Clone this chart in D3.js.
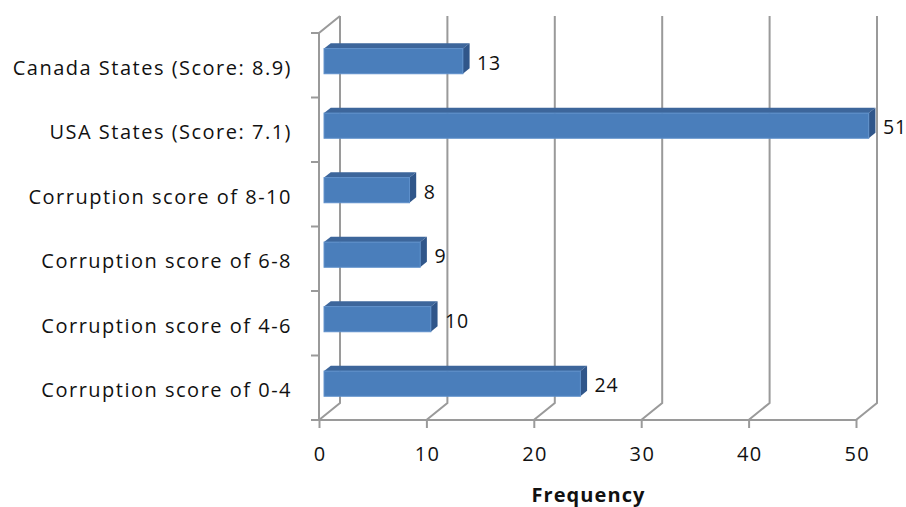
<!DOCTYPE html>
<html>
<head>
<meta charset="utf-8">
<script src="https://cdn.jsdelivr.net/npm/d3@7"></script>
<style>
  body { margin: 0; background: #fff; }
  text { font-family: "Open Sans", sans-serif; fill: #111; letter-spacing: 1.4px; }
  .grid { stroke: #9a9a9a; stroke-width: 2; fill: none; }
</style>
</head>
<body>
<svg id="chart" width="906" height="507"></svg>
<script>
// data
const categories = [
  'Canada States (Score: 8.9)',
  'USA States (Score: 7.1)',
  'Corruption score of 8-10',
  'Corruption score of 6-8',
  'Corruption score of 4-6',
  'Corruption score of 0-4',
];
const frequencies = [13, 51, 8, 9, 10, 24];
const xTicks = [0, 10, 20, 30, 40, 50];
const xTitle = 'Frequency';

const svg = d3.select('#chart');

// 3D look: how far the back wall is shifted from the front plane
const depthX = 21;
const depthY = 17;
const barFront = 0.24; // bar depth range, as fraction of full depth
const barBack = 0.56;

const x = d3.scaleLinear().domain([0, 50]).range([319, 856]);
// bars sit a bit further back, so slightly shorter (perspective)
const xBar = d3.scaleLinear().domain([0, 50]).range([319, 853]);
const y = d3.scaleBand().domain(categories).range([33, 420]);
const floorY = y.range()[1];
const topY = y.range()[0];

function project(px, py, d) {
  return [px + d * depthX, py - d * depthY];
}

const line = d3.line();

// back wall gridlines + floor diagonals
const grid = svg.append('g');
xTicks.forEach((t) => {
  const back = project(x(t), floorY, 1);
  const backTop = project(x(t), topY, 1);
  grid.append('path').attr('class', 'grid')
    .attr('d', line([[x(t), floorY], back, backTop]));
});
// left side wall: front axis line and top diagonal
grid.append('path').attr('class', 'grid')
  .attr('d', line([[x(0), floorY], [x(0), topY], project(x(0), topY, 1)]));
// floor front edge
grid.append('path').attr('class', 'grid')
  .attr('d', line([[x(0), floorY], [x(50), floorY]]));

// y ticks at band boundaries
const yBounds = categories.map((c) => y(c)).concat([floorY]);
grid.selectAll('.ytick')
  .data(yBounds)
  .enter()
  .append('path')
  .attr('class', 'grid')
  .attr('d', (d) => line([[x(0) - 8, d], [x(0), d]]));

// x axis ticks and labels
const xAxis = svg.append('g')
  .attr('transform', 'translate(0,' + floorY + ')')
  .call(d3.axisBottom(x).tickValues(xTicks).tickSize(8).tickPadding(19));
xAxis.select('.domain').remove();
xAxis.selectAll('line').attr('stroke', '#9a9a9a').attr('stroke-width', 2);
xAxis.selectAll('text')
  .style('font-family', '"Open Sans", sans-serif')
  .style('font-size', '20px')
  .attr('dx', '0.7px')
  .attr('fill', '#111');

// y labels
svg.append('g')
  .selectAll('text')
  .data(categories)
  .enter()
  .append('text')
  .attr('x', 292)
  .attr('y', (d) => y(d) + y.bandwidth() / 2 + 2)
  .attr('text-anchor', 'end')
  .attr('dominant-baseline', 'central')
  .style('font-size', '20px')
  .style('letter-spacing', '1.5px')
  .text((d) => d);

// bars
const barH = y.bandwidth() * 0.39;
const bars = svg.append('g')
  .selectAll('g')
  .data(categories.map((c, i) => ({ cat: c, value: frequencies[i] })))
  .enter()
  .append('g');

function geom(d) {
  const x0 = xBar(0);
  const x1 = xBar(d.value);
  const y0 = y(d.cat) + (y.bandwidth() - barH) / 2;
  const y1 = y0 + barH;
  return { x0, x1, y0, y1 };
}

// top face
bars.append('path')
  .attr('fill', '#3d669b')
  .attr('d', (d) => {
    const g = geom(d);
    return line([
      project(g.x0, g.y0, barFront), project(g.x1, g.y0, barFront),
      project(g.x1, g.y0, barBack), project(g.x0, g.y0, barBack),
    ]) + 'Z';
  });
// side face
bars.append('path')
  .attr('fill', '#30568a')
  .attr('d', (d) => {
    const g = geom(d);
    return line([
      project(g.x1, g.y0, barFront), project(g.x1, g.y0, barBack),
      project(g.x1, g.y1, barBack), project(g.x1, g.y1, barFront),
    ]) + 'Z';
  });
// front face
bars.append('rect')
  .attr('fill', '#4a7ebb')
  .attr('stroke', '#5d8fca')
  .attr('stroke-width', 1)
  .attr('x', (d) => project(geom(d).x0, 0, barFront)[0])
  .attr('y', (d) => project(0, geom(d).y0, barFront)[1])
  .attr('width', (d) => geom(d).x1 - geom(d).x0)
  .attr('height', barH);

// value labels
bars.append('text')
  .attr('x', (d) => project(geom(d).x1, 0, barBack)[0] + 7.5)
  .attr('y', (d) => project(0, (geom(d).y0 + geom(d).y1) / 2, barFront)[1] + 1)
  .attr('dominant-baseline', 'central')
  .style('font-size', '19.5px')
  .style('letter-spacing', '0.8px')
  .text((d) => d.value);

// axis title
svg.append('text')
  .attr('x', (x(0) + x(50)) / 2 + 1)
  .attr('y', 494)
  .attr('text-anchor', 'middle')
  .attr('dominant-baseline', 'central')
  .style('font-size', '20px')
  .style('font-weight', 'bold')
  .style('letter-spacing', '1.1px')
  .text(xTitle);
</script>
</body>
</html>
